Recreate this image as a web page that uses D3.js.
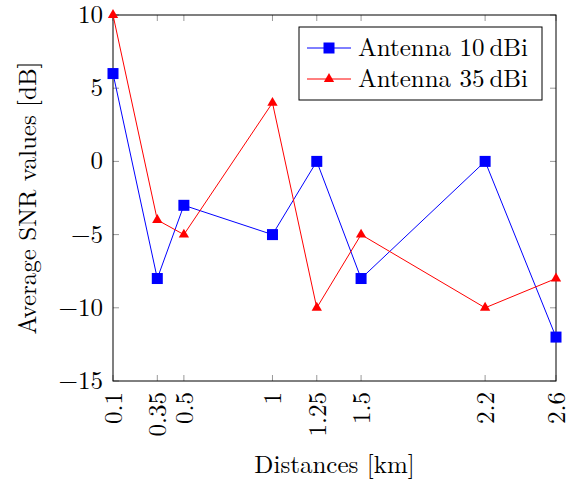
<!DOCTYPE html>
<html>
<head>
<meta charset="utf-8">
<script src="https://cdn.jsdelivr.net/npm/d3@7"></script>
<style>
  body { margin: 0; background: #fff; }
  text { font-family: "Latin Modern Roman", "Liberation Serif", "DejaVu Serif", serif; fill: #000; }
</style>
</head>
<body>
<svg id="chart" width="576" height="484"></svg>
<script>
const distances = [0.1, 0.35, 0.5, 1, 1.25, 1.5, 2.2, 2.6];
const snr10 = [6, -8, -3, -5, 0, -8, 0, -12];
const snr35 = [10, -4, -5, 4, -10, -5, -10, -8];
const yTicks = [-15, -10, -5, 0, 5, 10];
const seriesNames = ["Antenna 10\u2009dBi", "Antenna 35\u2009dBi"];

const svg = d3.select("#chart");
const m = {left: 113, right: 556, top: 15, bottom: 381};
const fs = 25;

const x = d3.scaleLinear().domain([0.1, 2.6]).range([m.left, m.right]);
const y = d3.scaleLinear().domain([-15, 10]).range([m.bottom, m.top]);

// ticks (inward, mirrored)
const tickCol = "#999";
const tl = 6;
distances.forEach(d => {
  svg.append("line").attr("x1", x(d)).attr("x2", x(d)).attr("y1", m.bottom).attr("y2", m.bottom - tl)
    .attr("stroke", tickCol).attr("stroke-width", 1);
  svg.append("line").attr("x1", x(d)).attr("x2", x(d)).attr("y1", m.top).attr("y2", m.top + tl)
    .attr("stroke", tickCol).attr("stroke-width", 1);
  svg.append("text").attr("transform", `translate(${x(d) + 9},${m.bottom + 11}) rotate(-90)`)
    .attr("text-anchor", "end").attr("font-size", fs).text(d);
});
yTicks.forEach(v => {
  svg.append("line").attr("x1", m.left).attr("x2", m.left + tl).attr("y1", y(v)).attr("y2", y(v))
    .attr("stroke", tickCol).attr("stroke-width", 1);
  svg.append("line").attr("x1", m.right).attr("x2", m.right - tl).attr("y1", y(v)).attr("y2", y(v))
    .attr("stroke", tickCol).attr("stroke-width", 1);
  svg.append("text").attr("x", m.left - 10).attr("y", y(v) + 8)
    .attr("text-anchor", "end").attr("font-size", fs).text(v < 0 ? "\u2212" + Math.abs(v) : v);
});

svg.append("rect").attr("x", m.left).attr("y", m.top)
  .attr("width", m.right - m.left).attr("height", m.bottom - m.top)
  .attr("fill", "none").attr("stroke", "#000").attr("stroke-width", 1);

// axis labels
svg.append("text").attr("x", (m.left + m.right) / 2).attr("y", 473)
  .attr("text-anchor", "middle").attr("font-size", fs).text("Distances [km]");
svg.append("text").attr("transform", `translate(36,${(m.top + m.bottom) / 2}) rotate(-90)`)
  .attr("text-anchor", "middle").attr("font-size", fs).text("Average SNR values [dB]");

const line = d3.line().x((d, i) => x(distances[i])).y(d => y(d));
const tri = d3.symbol().type(d3.symbolTriangle).size(46);

// blue series
svg.append("path").datum(snr10).attr("d", line).attr("fill", "none").attr("stroke", "#00f").attr("stroke-width", 1);
svg.selectAll(".sq").data(snr10).enter().append("rect")
  .attr("x", (d, i) => x(distances[i]) - 5.5).attr("y", d => y(d) - 5.5)
  .attr("width", 11).attr("height", 11).attr("fill", "#00f");

// red series
svg.append("path").datum(snr35).attr("d", line).attr("fill", "none").attr("stroke", "#f00").attr("stroke-width", 1);
svg.selectAll(".tri").data(snr35).enter().append("path")
  .attr("d", tri).attr("transform", (d, i) => `translate(${x(distances[i])},${y(d)})`)
  .attr("fill", "#f00");

// legend
const lg = svg.append("g");
lg.append("rect").attr("x", 299).attr("y", 27).attr("width", 243).attr("height", 73)
  .attr("fill", "#fff").attr("stroke", "#000").attr("stroke-width", 1);
[["#00f", "sq"], ["#f00", "tri"]].forEach(([c, mk], i) => {
  const yy = 48 + i * 31;
  lg.append("line").attr("x1", 307).attr("x2", 351).attr("y1", yy).attr("y2", yy)
    .attr("stroke", c).attr("stroke-width", 1);
  if (mk === "sq") {
    lg.append("rect").attr("x", 323.5).attr("y", yy - 5.5).attr("width", 11).attr("height", 11).attr("fill", c);
  } else {
    lg.append("path").attr("d", tri).attr("transform", `translate(329,${yy})`).attr("fill", c);
  }
  lg.append("text").attr("x", 358).attr("y", yy + 8).attr("font-size", fs).text(seriesNames[i]);
});
</script>
</body>
</html>
